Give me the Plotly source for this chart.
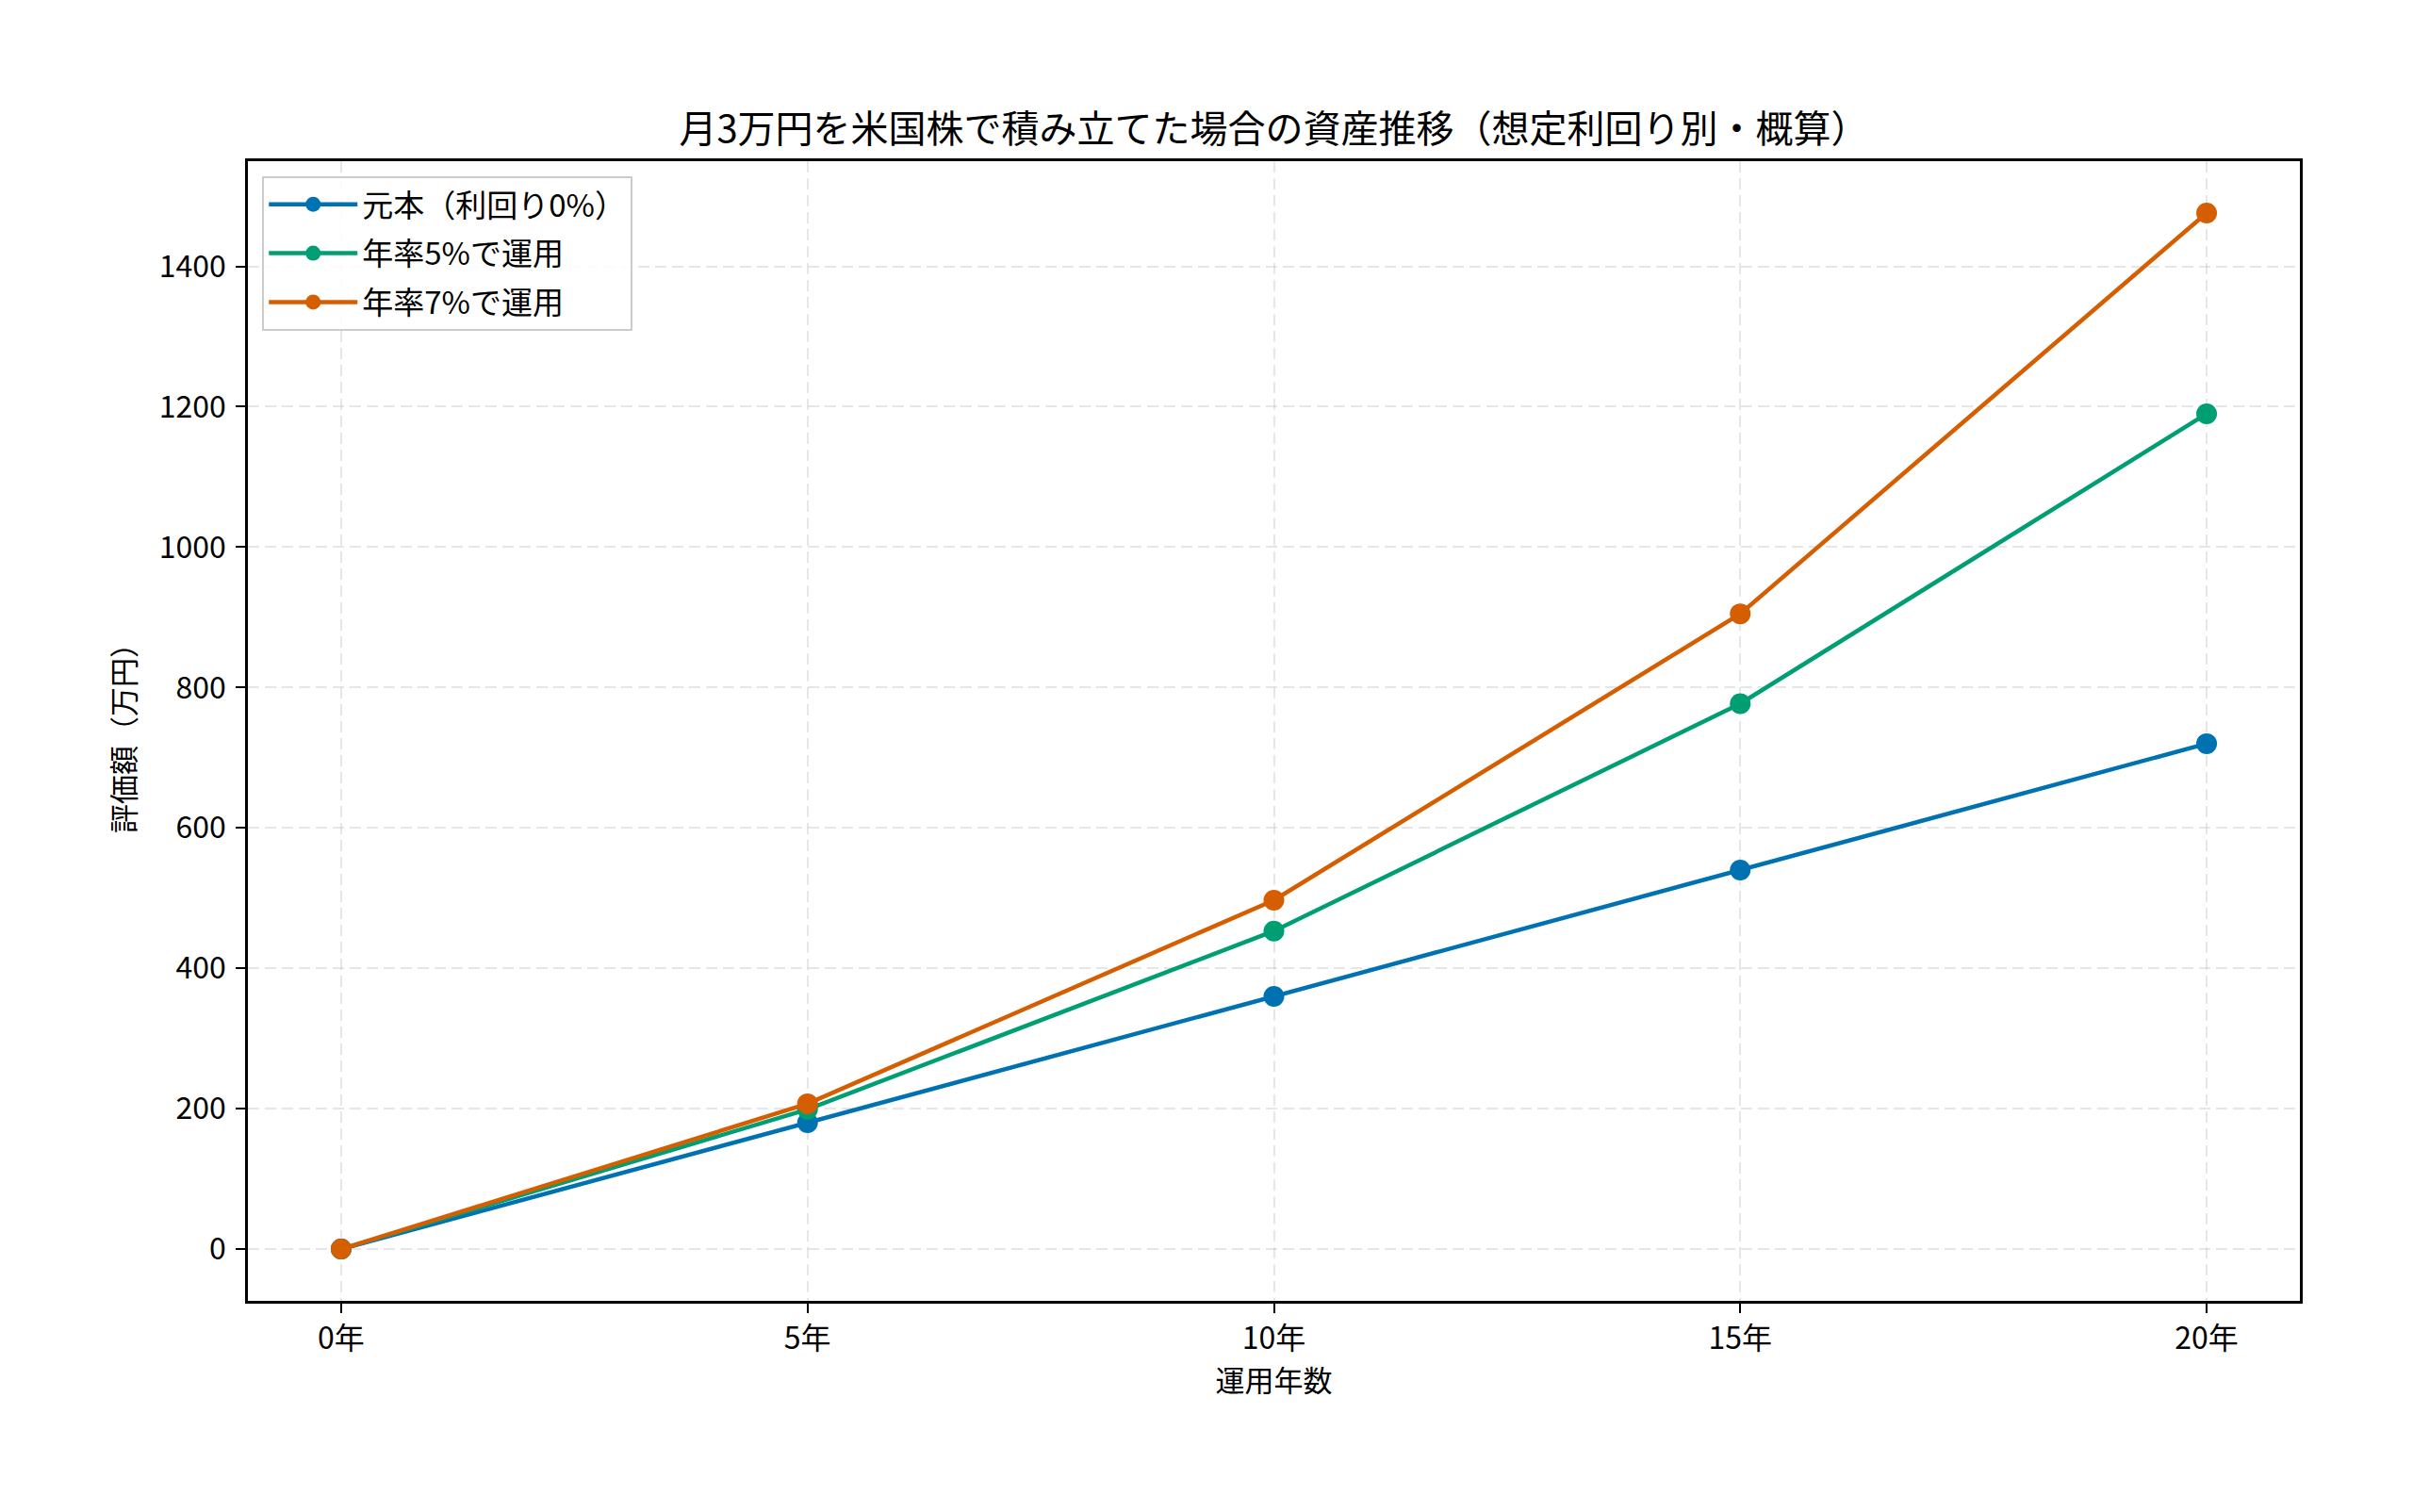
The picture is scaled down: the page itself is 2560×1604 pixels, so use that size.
import plotly.graph_objects as go

years = [0, 5, 10, 15, 20]
year_labels = ["0年", "5年", "10年", "15年", "20年"]
principal = [0, 180, 360, 540, 720]
rate5 = [0, 199, 453, 777, 1190]
rate7 = [0, 207, 497, 905, 1476]
series_names = ["元本（利回り0%）", "年率5%で運用", "年率7%で運用"]
colors = ["#0072B2", "#009E73", "#D55E00"]
y_ticks = [0, 200, 400, 600, 800, 1000, 1200, 1400]

FONT = "Noto Sans CJK JP"

fig = go.Figure()
for i, (name, vals, col) in enumerate(zip(series_names, [principal, rate5, rate7], colors)):
    fig.add_trace(go.Scatter(
        x=years, y=vals, name=name, mode="lines+markers",
        legendgroup=f"g{i}",
        line=dict(color=col, width=4.5),
        marker=dict(color=col, size=22),
    ))

axis_common = dict(
    showline=True, linecolor="black", linewidth=2.5, mirror=True,
    ticks="outside", ticklen=10, tickwidth=2.2, tickcolor="black",
    showgrid=True, gridcolor="rgba(200,200,200,0.45)", gridwidth=2,
    griddash="12px,6px", zeroline=False,
    tickfont=dict(family=FONT, size=32, color="black"),
)

fig.update_layout(
    width=2560, height=1604,
    margin=dict(l=263, r=120, t=171, b=224),
    paper_bgcolor="white", plot_bgcolor="white",
    font=dict(family=FONT, color="black"),
    title=dict(
        text="月3万円を米国株で積み立てた場合の資産推移（想定利回り別・概算）",
        x=0.5, xref="paper", xanchor="center",
        y=1 - 137 / 1604, yref="container", yanchor="middle",
        font=dict(family=FONT, size=40, color="black"),
    ),
    xaxis=dict(
        range=[-1, 21], tickvals=years, ticktext=year_labels,
        title=dict(text="運用年数", font=dict(family=FONT, size=31), standoff=16),
        ticklabelstandoff=0,
        **axis_common,
    ),
    yaxis=dict(
        range=[-73.8, 1549.8], tickvals=y_ticks,
        title=dict(text="評価額（万円）", font=dict(family=FONT, size=31), standoff=16),
        ticklabelstandoff=4,
        **axis_common,
    ),
    legend=dict(
        x=0.007, y=0.987, xanchor="left", yanchor="top",
        bgcolor="rgba(255,255,255,0.85)", bordercolor="#cccccc", borderwidth=2,
        font=dict(family=FONT, size=33, color="black"),
        itemwidth=94, tracegroupgap=6,
    ),
    showlegend=True,
)

fig.write_html("out.html")
